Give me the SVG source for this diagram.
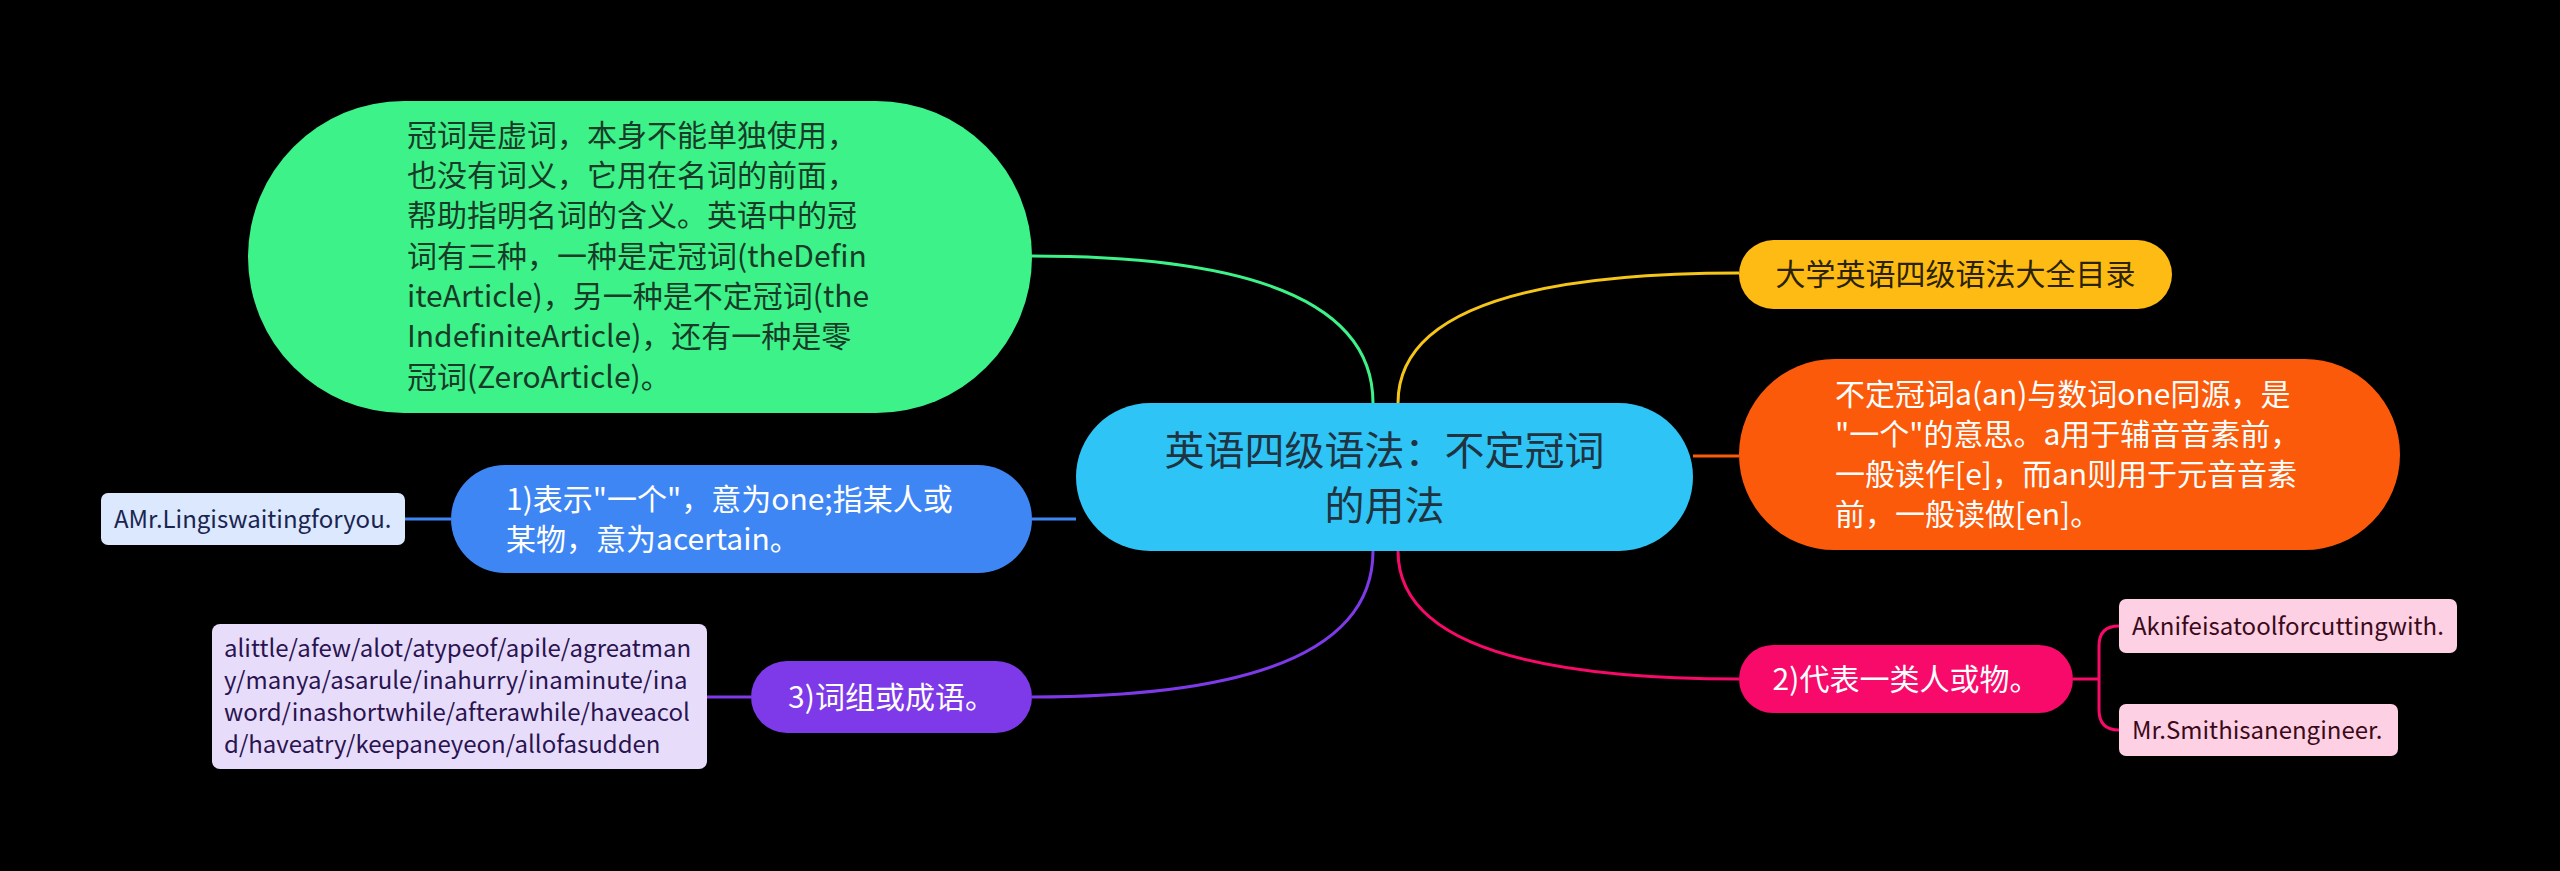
<svg xmlns="http://www.w3.org/2000/svg" width="2560" height="871" viewBox="0 0 2560 871">
<style>
text{font-family:"Noto Sans CJK SC","Noto Sans",sans-serif;}
.c{fill:none;stroke-width:3;}
.t30{font-size:30px;}
.t24{font-size:24px;}
.w{fill:#ffffff;}
</style>
<rect width="2560" height="871" fill="#000000"/>
<g id="connectors">
<path class="c" stroke="#3ef28a" d="M1373 403 Q1373 256 1032 256"/>
<path class="c" stroke="#f5c518" d="M1398 403 Q1398 273 1739 273"/>
<path class="c" stroke="#fb5a0a" d="M1693 456 H1739"/>
<path class="c" stroke="#3f86f5" d="M1076 519 H1032"/>
<path class="c" stroke="#3f86f5" d="M451 519 H405"/>
<path class="c" stroke="#7e3ae8" d="M1373 551 Q1373 697 1032 697"/>
<path class="c" stroke="#7e3ae8" d="M751 697 H707"/>
<path class="c" stroke="#f80a6b" d="M1398 551 Q1398 679 1739 679"/>
<path class="c" stroke="#f80a6b" d="M2073 679 H2099 M2099 679 V646 Q2099 626 2119 626 M2099 679 V710 Q2099 730 2119 730"/>
</g>
<g id="center">
<rect x="1076" y="403" width="617" height="148" rx="74" fill="#2ec4f5"/>
<text x="1384.5" y="465" font-size="40" text-anchor="middle" fill="#1f3340">英语四级语法：不定冠词</text>
<text x="1384.5" y="520" font-size="40" text-anchor="middle" fill="#1f3340">的用法</text>
</g>
<g id="intro">
<rect x="248" y="101" width="784" height="312" rx="156" fill="#3ef28a"/>
<text class="t30" fill="#173b27">
<tspan x="407" y="146">冠词是虚词，本身不能单独使用，</tspan>
<tspan x="407" y="186">也没有词义，它用在名词的前面，</tspan>
<tspan x="407" y="226">帮助指明名词的含义。英语中的冠</tspan>
<tspan x="407" y="267">词有三种，一种是定冠词(theDefin</tspan>
<tspan x="407" y="307">iteArticle)，另一种是不定冠词(the</tspan>
<tspan x="407" y="347">IndefiniteArticle)，还有一种是零</tspan>
<tspan x="407" y="388">冠词(ZeroArticle)。</tspan>
</text>
</g>
<g id="catalog">
<rect x="1739" y="240" width="433" height="69" rx="34.5" fill="#fdbb14"/>
<text class="t30" x="1955.5" y="285" text-anchor="middle" fill="#2b2200">大学英语四级语法大全目录</text>
</g>
<g id="definition">
<rect x="1739" y="359" width="661" height="191" rx="95.5" fill="#fb5a0a"/>
<text class="t30 w">
<tspan x="1835" y="405">不定冠词a(an)与数词one同源，是</tspan>
<tspan x="1835" y="445">"一个"的意思。a用于辅音音素前，</tspan>
<tspan x="1835" y="485">一般读作[e]，而an则用于元音音素</tspan>
<tspan x="1835" y="525">前，一般读做[en]。</tspan>
</text>
</g>
<g id="usage1">
<rect x="451" y="465" width="581" height="108" rx="54" fill="#3f86f5"/>
<text class="t30 w">
<tspan x="506" y="510">1)表示"一个"，意为one;指某人或</tspan>
<tspan x="506" y="550">某物，意为acertain。</tspan>
</text>
</g>
<g id="usage1-example">
<rect x="101" y="493" width="304" height="52" rx="7" fill="#dbe8fd"/>
<text class="t24" x="114" y="528" fill="#1a2450">AMr.Lingiswaitingforyou.</text>
</g>
<g id="usage3">
<rect x="751" y="661" width="281" height="72" rx="36" fill="#7e3ae8"/>
<text class="t30 w" x="891.5" y="708" text-anchor="middle">3)词组或成语。</text>
</g>
<g id="usage3-example">
<rect x="212" y="624" width="495" height="145" rx="8" fill="#e8dcfb"/>
<text class="t24" fill="#2a1450">
<tspan x="224" y="657">alittle/afew/alot/atypeof/apile/agreatman</tspan>
<tspan x="224" y="689">y/manya/asarule/inahurry/inaminute/ina</tspan>
<tspan x="224" y="721">word/inashortwhile/afterawhile/haveacol</tspan>
<tspan x="224" y="753">d/haveatry/keepaneyeon/allofasudden</tspan>
</text>
</g>
<g id="usage2">
<rect x="1739" y="645" width="334" height="68" rx="34" fill="#f80a6b"/>
<text class="t30 w" x="1906" y="690" text-anchor="middle">2)代表一类人或物。</text>
</g>
<g id="usage2-example1">
<rect x="2119" y="599" width="338" height="54" rx="7" fill="#fdd0e3"/>
<text class="t24" x="2132" y="635" fill="#3a0a1a">Aknifeisatoolforcuttingwith.</text>
</g>
<g id="usage2-example2">
<rect x="2119" y="704" width="279" height="52" rx="7" fill="#fdd0e3"/>
<text class="t24" x="2132" y="739" fill="#3a0a1a">Mr.Smithisanengineer.</text>
</g>
</svg>
